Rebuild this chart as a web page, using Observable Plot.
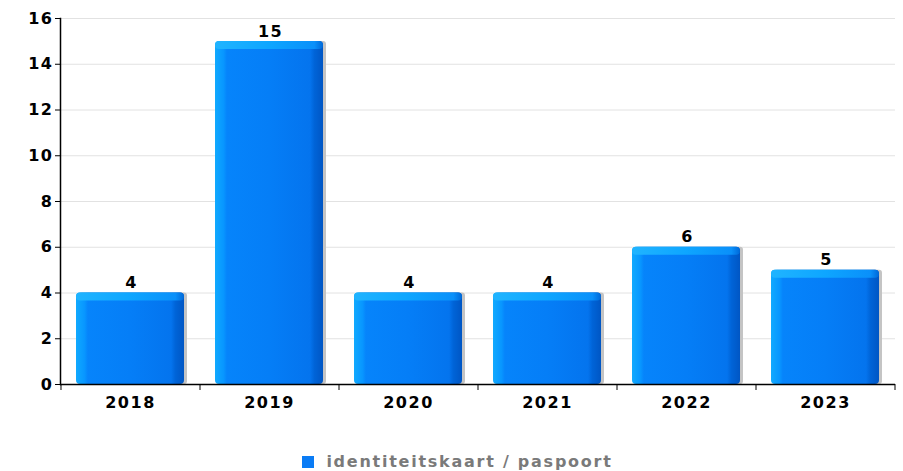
<!DOCTYPE html>
<html><head><meta charset="utf-8">
<script src="https://cdn.jsdelivr.net/npm/d3@7"></script>
<script src="https://cdn.jsdelivr.net/npm/@observablehq/plot@0.6"></script>
<style>
body{margin:0;background:#fff;font-family:"DejaVu Sans",sans-serif;}
#legend{height:20px;margin-top:22px;text-align:center;font:bold 16px "DejaVu Sans",sans-serif;color:#7a7a7a;line-height:20px;letter-spacing:1.75px;padding-left:12px;}
#legend .sw{display:inline-block;width:12px;height:12px;background:#0a7cf5;margin-right:12px;vertical-align:-1px;}
</style></head><body>
<div id="chart"></div>
<div id="legend"></div>
<script>
const years = ["2018", "2019", "2020", "2021", "2022", "2023"];
const counts = [4, 15, 4, 4, 6, 5];
const yTicks = [0, 2, 4, 6, 8, 10, 12, 14, 16];
const seriesName = "identiteitskaart / paspoort";

const data = years.map((year, i) => ({year, count: counts[i]}));
const W = 903, ML = 60, MR = 8;
const pIn = 0.223, pOut = 0.115;
const step = (W - ML - MR) / (years.length - pIn + 2 * pOut);

const plot = Plot.plot({
  width: W, height: 430, marginLeft: ML, marginRight: MR, marginTop: 18, marginBottom: 46,
  style: {fontFamily: "DejaVu Sans", fontSize: "15px", fontWeight: "bold", color: "#000", background: "#fff", overflow: "visible", letterSpacing: "1.5px"},
  x: {domain: years, paddingInner: pIn, paddingOuter: pOut, label: null},
  y: {domain: [0, 16], ticks: yTicks, label: null},
  marks: [
    Plot.gridY(yTicks, {stroke: "#e2e2e2", strokeOpacity: 1}),
    Plot.barY(data, {x: "year", y: "count", fill: "#c4c4c4", dx: 3, rx: 3}),
    Plot.barY(data, {x: "year", y: "count", fill: "url(#barGrad)", rx: 4}),
    Plot.barY(data, {x: "year", y1: "count", y2: "count", insetBottom: -8, fill: "url(#topGrad)", rx: 4}),
    Plot.text(data, {x: "year", y: "count", text: d => String(d.count), dy: -10, dx: 1, fontSize: 16, fontWeight: "bold", fill: "#000"}),
    Plot.axisY({ticks: yTicks, tickSize: 5, tickPadding: 2, fontSize: 16, fontWeight: "bold", label: null}),
    Plot.axisX({tickSize: 0, tickPadding: 12, fontSize: 16, fontWeight: "bold", label: null}),
    Plot.ruleX(data, {x: "year", y1: 0, y2: 0, insetBottom: -6, dx: step / 2, stroke: "#000"}),
    Plot.ruleX(data.slice(0, 1), {x: "year", y1: 0, y2: 0, insetBottom: -6, dx: -step / 2, stroke: "#000"}),
    Plot.ruleY([0], {stroke: "#000", strokeWidth: 1.5}),
    Plot.frame({anchor: "left", stroke: "#000", strokeWidth: 1.5})
  ]
});

const svg = d3.select(plot);
const defs = svg.insert("defs", ":first-child");
const g1 = defs.append("linearGradient").attr("id", "barGrad").attr("x1", 0).attr("x2", 1).attr("y1", 0).attr("y2", 0);
[[0, "#10aaff"], [0.08, "#0896ff"], [0.11, "#0684fb"], [0.5, "#057ef7"], [0.88, "#0474ee"], [0.92, "#0064d8"], [1, "#0056c4"]]
  .forEach(([o, c]) => g1.append("stop").attr("offset", o).attr("stop-color", c));
const g2 = defs.append("linearGradient").attr("id", "topGrad").attr("x1", 0).attr("x2", 1).attr("y1", 0).attr("y2", 0);
[[0, "#20b4ff"], [0.5, "#0ea6ff"], [0.92, "#0a90fa"], [1, "#0068d8"]]
  .forEach(([o, c]) => g2.append("stop").attr("offset", o).attr("stop-color", c));

document.getElementById("chart").appendChild(plot);
const lg = document.getElementById("legend");
const sw = document.createElement("span"); sw.className = "sw"; lg.appendChild(sw);
const tx = document.createElement("span"); tx.textContent = seriesName; lg.appendChild(tx);
</script>
</body></html>
